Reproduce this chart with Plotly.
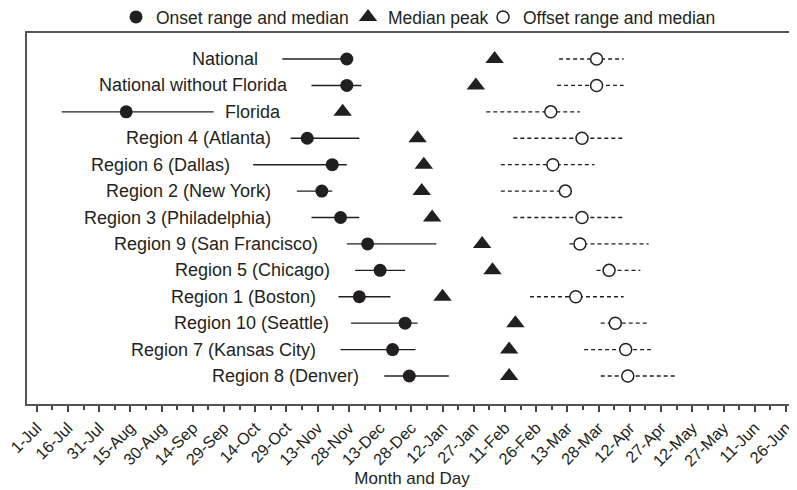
import plotly.graph_objects as go

# ---- data (days after 1 July) ----
regions = ["National", "National without Florida", "Florida", "Region 4 (Atlanta)",
           "Region 6 (Dallas)", "Region 2 (New York)", "Region 3 (Philadelphia)",
           "Region 9 (San Francisco)", "Region 5 (Chicago)", "Region 1 (Boston)",
           "Region 10 (Seattle)", "Region 7 (Kansas City)", "Region 8 (Denver)"]
onset_start  = [118, 132, 12, 122, 104, 125, 132, 149, 153, 145, 151, 146, 167]
onset_median = [149, 149, 43, 130, 142, 137, 146, 159, 165, 155, 177, 171, 179]
onset_end    = [149, 156, 85, 155, 149, 142, 155, 192, 177, 170, 183, 182, 198]
peak_median  = [220, 211, 147, 183, 186, 185, 190, 214, 219, 195, 230, 227, 227]
offset_start  = [251, 250, 216, 229, 223, 223, 229, 256, 269, 237, 271, 263, 271]
offset_median = [269, 269, 247, 262, 248, 254, 262, 261, 275, 259, 278, 283, 284]
offset_end    = [282, 282, 261, 282, 268, 254, 282, 294, 290, 282, 294, 296, 308]

tick_days = list(range(0, 361, 15))
tick_labels = ["1-Jul", "16-Jul", "31-Jul", "15-Aug", "30-Aug", "14-Sep", "29-Sep",
               "14-Oct", "29-Oct", "13-Nov", "28-Nov", "13-Dec", "28-Dec", "12-Jan",
               "27-Jan", "11-Feb", "26-Feb", "13-Mar", "28-Mar", "12-Apr", "27-Apr",
               "12-May", "27-May", "11-Jun", "26-Jun"]

# label placement (right edge of each row label, in days)
label_anchor = [107.5, 121.5, 118.5, 113.5, 94, 113.5, 113.5, 136, 142, 135, 141.5, 135, 156]

rows = list(range(len(regions)))
INK = "#231f20"
FONT = "Liberation Sans, Arial, Helvetica, sans-serif"

def segs(a, b):
    xs, ys = [], []
    for i, (s, e) in enumerate(zip(a, b)):
        xs += [s, e, None]
        ys += [i, i, None]
    return xs, ys

fig = go.Figure()
ox, oy = segs(onset_start, onset_end)
fig.add_trace(go.Scatter(x=ox, y=oy, mode="lines", line=dict(color=INK, width=1.4),
                         showlegend=False, hoverinfo="skip"))
fx, fy = segs(offset_start, offset_end)
fig.add_trace(go.Scatter(x=fx, y=fy, mode="lines",
                         line=dict(color=INK, width=1.3, dash="4px,3px"),
                         showlegend=False, hoverinfo="skip"))
fig.add_trace(go.Scatter(x=onset_median, y=rows, mode="markers", name="Onset range and median",
                         marker=dict(symbol="circle", size=13, color=INK), legend="legend"))
fig.add_trace(go.Scatter(x=peak_median, y=rows, mode="markers", name="Median peak",
                         marker=dict(symbol="triangle-up", size=16, color=INK), legend="legend2"))
fig.add_trace(go.Scatter(x=offset_median, y=rows, mode="markers", name="Offset range and median",
                         marker=dict(symbol="circle", size=12, color="white",
                                     line=dict(color=INK, width=1.5)), legend="legend3"))

for i, name in enumerate(regions):
    fig.add_annotation(x=label_anchor[i], y=i, text=name, showarrow=False,
                       xanchor="right", yanchor="middle",
                       font=dict(size=18, color=INK, family=FONT))

def leg(x):
    return dict(orientation="h", x=x, xanchor="left", y=1.043, yanchor="middle",
                font=dict(size=17.5, color=INK), itemwidth=30,
                bgcolor="rgba(0,0,0,0)")

# page body adds an 8px offset, so the figure is 8px smaller than the window
fig.update_layout(
    width=789, height=482,
    margin=dict(l=19, r=0, t=25, b=86, autoexpand=False),
    paper_bgcolor="white", plot_bgcolor="white",
    font=dict(family=FONT, color=INK, size=17),
    legend=leg(0.1156), legend2=leg(0.4169), legend3=leg(0.5922),
)
fig.update_xaxes(range=[-4.66, 365.3], tickmode="array", tickvals=tick_days,
                 ticktext=tick_labels, tickangle=-45, ticks="outside", ticklen=6,
                 tickwidth=1.5, tickcolor="#444", showline=True, linecolor="#555",
                 linewidth=2, mirror=True, showgrid=False, zeroline=False,
                 automargin=False, ticklabeloverflow="allow",
                 tickfont=dict(size=16.3, color=INK),
                 minor=dict(tickmode="array", tickvals=[d + 7.5 for d in tick_days[:-1]] + [367.5],
                            ticks="outside", ticklen=4, tickwidth=1.5, tickcolor="#444"),
                 title=dict(text="Month and Day", font=dict(size=17, color=INK), standoff=3))
fig.update_yaxes(range=[13.06, -0.985], showticklabels=False, ticks="", showgrid=False,
                 zeroline=False, showline=True, linecolor="#555", linewidth=2,
                 automargin=False)

fig.write_html("out.html")
